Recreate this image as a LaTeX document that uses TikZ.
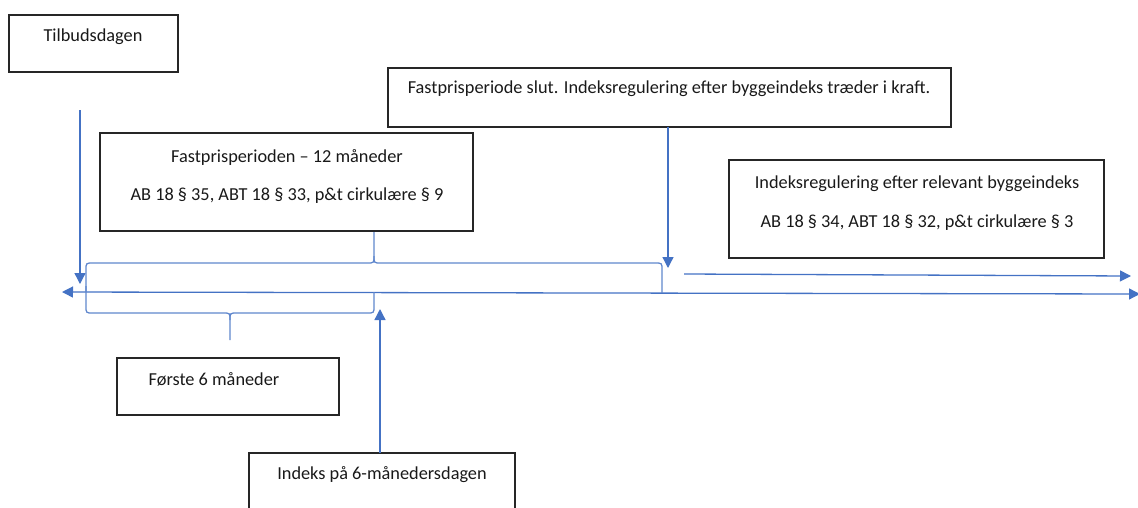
\documentclass[tikz,border=0pt]{standalone}
\usepackage{fontspec}
\setmainfont{Carlito}
\usetikzlibrary{arrows.meta}
\definecolor{wblue}{HTML}{4472C4}
\begin{document}
\begin{tikzpicture}[x=1pt,y=-1pt,
  box/.style={draw=black!85, line width=1.2pt, inner sep=0pt, minimum width=#1},
  txt/.style={anchor=base, inner sep=0pt, font=\fontsize{18.3}{22}\selectfont, text=black!90},
  conn/.style={draw=wblue, line width=1.3pt, -{Triangle[length=11pt,width=11pt]}},
  brace/.style={draw=wblue!85, line width=1.3pt, line join=round}
]
\useasboundingbox (0,0) rectangle (1138,507);
\clip (0,0) rectangle (1138,507);
% boxes
\node[box=169pt, minimum height=57pt] (tilbud) at (93.5,43.5) {};
\node[box=563pt, minimum height=59pt] (fslut) at (669.5,97.5) {};
\node[box=373pt, minimum height=98pt] (fper) at (286.5,182) {};
\node[box=375pt, minimum height=98pt] (ireg) at (916.5,209) {};
\node[box=222pt, minimum height=57pt] (forste) at (228,386.5) {};
\node[box=266pt, minimum height=70pt] (indeks) at (382,488) {};
% texts
\node[txt] (t1) at (93,41) {Tilbudsdagen};
\node[txt] (t2) at (669,93) {Fastprisperiode slut. Indeksregulering efter byggeindeks træder i kraft.};
\node[txt] (t3a) at (287,162) {Fastprisperioden – 12 måneder};
\node[txt] (t3b) at (287,200) {AB 18 § 35, ABT 18 § 33, p\&t cirkulære § 9};
\node[txt] (t4a) at (917,188) {Indeksregulering efter relevant byggeindeks};
\node[txt] (t4b) at (917,227) {AB 18 § 34, ABT 18 § 32, p\&t cirkulære § 3};
\node[txt] (t5) at (214,385) {Første 6 måneder};
\node[txt] (t6) at (382,479) {Indeks på 6-månedersdagen};
% coordinates
\coordinate (c1s) at (80,110);
\coordinate (c1e) at (80,284);
\coordinate (c2s) at (668,127);
\coordinate (c2e) at (668,268);
\coordinate (c3s) at (380,453);
\coordinate (c3e) at (380,309);
\coordinate (mL) at (62,292);
\coordinate (mR) at (1140,294);
\coordinate (c4s) at (684,274);
\coordinate (c4e) at (1131,276);
% connectors
\draw[conn] (c1s) -- (c1e);
\draw[conn] (c2s) -- (c2e);
\draw[conn] (c3s) -- (c3e);
\draw[conn] (c4s) -- (c4e);
\draw[draw=wblue, line width=1.3pt, {Triangle[length=11pt,width=11pt]}-{Triangle[length=11pt,width=11pt]}] (mL) -- (mR);
% upper brace
\draw[brace] (86,292) -- (86,270) .. controls (86,263) .. (93,263) -- (367,263)
  .. controls (374,263) .. (374,256) -- (374,232);
\draw[brace] (374,256) .. controls (374,263) .. (381,263) -- (655,263)
  .. controls (662,263) .. (662,270) -- (662,293);
% lower brace
\draw[brace] (86,286) -- (86,306) .. controls (86,313) .. (93,313) -- (223,313)
  .. controls (230,313) .. (230,320) -- (230,340);
\draw[brace] (230,320) .. controls (230,313) .. (237,313) -- (367,313)
  .. controls (374,313) .. (374,306) -- (374,292);
\end{tikzpicture}
\end{document}
